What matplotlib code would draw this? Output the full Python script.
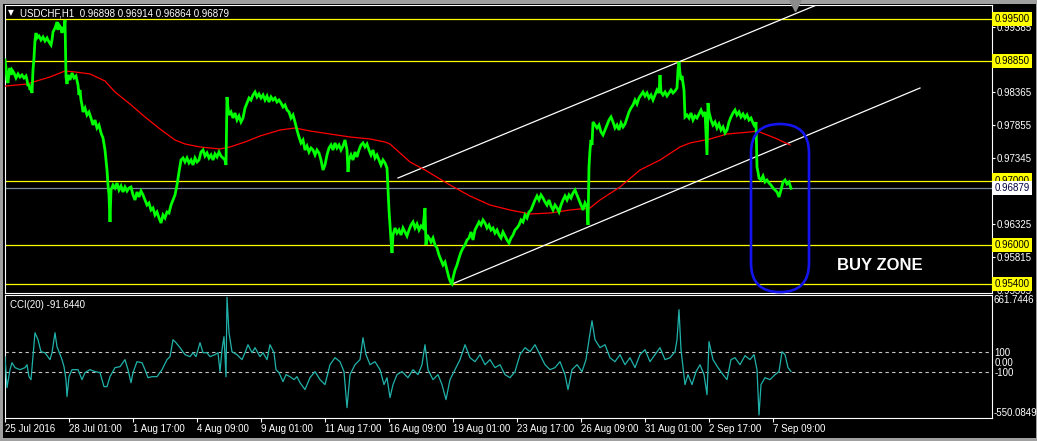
import matplotlib
matplotlib.use('Agg')
import matplotlib.pyplot as plt
from matplotlib.patches import FancyBboxPatch, Rectangle
from matplotlib.transforms import IdentityTransform, blended_transform_factory
import logging
logging.getLogger('matplotlib.font_manager').setLevel(logging.ERROR)

W, H = 1037, 441

title_text = "USDCHF,H1  0.96898 0.96914 0.96864 0.96879"
cci_title = "CCI(20) -91.6440"

# ---------------- price (H1 closes, bar index) ----------------
price_bars = [0, 1, 2, 3, 4, 5, 6, 7, 9, 11, 13, 15, 17, 19, 21, 22, 23, 24, 25, 26, 27, 28, 29, 30, 31, 32, 34, 36, 38, 40,
              42, 44, 46, 47, 48, 50, 52, 53, 54, 56, 57, 58, 59, 60, 61, 62, 63, 65, 67, 69, 71, 73, 74, 75, 76, 77, 78, 80, 82, 84,
              86, 88, 90, 92, 94, 96, 98, 100, 101, 102, 103, 104, 105, 106, 108, 110, 112, 114, 116, 118, 120, 122, 124, 126, 128, 130, 132, 134, 136, 138,
              140, 142, 144, 146, 148, 150, 152, 154, 156, 158, 160, 162, 164, 166, 168, 170, 172, 174, 176, 178, 180, 182, 184, 186, 188, 190, 192, 194, 196, 198,
              200, 202, 204, 206, 208, 210, 212, 214, 216, 218, 220, 221, 222, 223, 224, 226, 228, 230, 232, 234, 236, 238, 240, 242, 244, 246, 248, 250, 252, 254,
              256, 258, 260, 262, 264, 266, 268, 270, 272, 274, 276, 278, 280, 282, 284, 286, 288, 290, 292, 294, 296, 298, 300, 302, 304, 306, 308, 310, 312, 314,
              316, 318, 320, 322, 324, 326, 328, 330, 332, 334, 336, 338, 340, 342, 343, 344, 346, 348, 350, 352, 354, 356, 358, 360, 362, 364, 366, 368, 370, 372,
              374, 376, 378, 380, 382, 383, 384, 385, 386, 387, 388, 390, 392, 394, 396, 398, 400, 402, 404, 406, 408, 410, 412, 414, 416, 418, 420, 421, 422, 424,
              426, 428, 430, 432, 434, 436, 438, 440, 442, 444, 446, 447, 448, 450, 452, 454, 456, 458, 460, 462, 464, 466, 468, 470, 472, 474, 476, 478, 480, 482,
              484, 486, 488, 490, 492, 494, 496, 498, 500, 502, 504, 506, 508, 510, 512, 514, 516, 518, 520, 522, 524, 526, 528, 530, 532, 534, 536, 538, 540, 542,
              544, 546, 548, 550, 552, 554, 556, 558, 560, 562, 564, 566, 568, 570, 572, 574, 576, 578, 580, 582, 583, 584, 585, 586, 587, 588, 590, 592, 594, 596,
              598, 600, 602, 604, 606, 608, 610, 612, 614, 616, 618, 620, 622, 624, 626, 628, 630, 632, 634, 636, 638, 640, 642, 644, 646, 648, 650, 652, 654, 655,
              656, 658, 660, 662, 664, 666, 668, 670, 672, 673, 674, 675, 676, 677, 678, 679, 680, 682, 684, 686, 688, 690, 692, 694, 696, 698, 700, 702, 703, 704,
              706, 708, 710, 712, 714, 716, 718, 720, 722, 724, 726, 728, 730, 732, 734, 736, 738, 740, 742, 744, 746, 748, 750, 751, 752, 753, 754, 756, 758, 760,
              762, 764, 766, 768, 770, 772, 774, 776, 778, 780, 782, 784, 786]
price_close = [0.98869, 0.98745, 0.98559, 0.98512, 0.98683, 0.98745, 0.98636, 0.98714, 0.98667, 0.98590, 0.98652, 0.98605, 0.98636, 0.98590, 0.98621, 0.98559, 0.98464, 0.98496, 0.98403, 0.98434, 0.98357, 0.98714, 0.98900, 0.99179, 0.99287, 0.99210, 0.99241, 0.99179, 0.99225, 0.99163,
               0.99210, 0.99148, 0.99101, 0.99179, 0.99303, 0.99365, 0.99458, 0.99334, 0.99411, 0.99365, 0.99287, 0.99380, 0.99334, 0.99489, 0.98605, 0.98496, 0.98636, 0.98559, 0.98667, 0.98590, 0.98621, 0.98481, 0.98326, 0.98403, 0.98248, 0.98171, 0.98062, 0.98124, 0.98016, 0.98062,
               0.97969, 0.97861, 0.97938, 0.97814, 0.97861, 0.97737, 0.97659, 0.97473, 0.97318, 0.97163, 0.96930, 0.96776, 0.96357, 0.96853, 0.96930, 0.96884, 0.96961, 0.96853, 0.96915, 0.96822, 0.96899, 0.96837, 0.96884, 0.96899, 0.96776, 0.96698, 0.96822, 0.96745, 0.96837, 0.96776,
               0.96698, 0.96620, 0.96651, 0.96543, 0.96574, 0.96465, 0.96512, 0.96419, 0.96341, 0.96465, 0.96419, 0.96512, 0.96496, 0.96620, 0.96698, 0.96776, 0.96930, 0.97132, 0.97318, 0.97349, 0.97287, 0.97349, 0.97272, 0.97318, 0.97241, 0.97349, 0.97287, 0.97318, 0.97442, 0.97473,
               0.97380, 0.97427, 0.97349, 0.97396, 0.97318, 0.97411, 0.97365, 0.97442, 0.97380, 0.97349, 0.97318, 0.97241, 0.98295, 0.98124, 0.98016, 0.98062, 0.97969, 0.98047, 0.97938, 0.98000, 0.97907, 0.97969, 0.98124, 0.98202, 0.98279, 0.98248, 0.98326, 0.98372, 0.98295, 0.98341,
               0.98279, 0.98326, 0.98248, 0.98310, 0.98217, 0.98295, 0.98248, 0.98279, 0.98217, 0.98248, 0.98202, 0.98140, 0.98171, 0.98093, 0.98062, 0.97969, 0.98016, 0.97907, 0.97783, 0.97675, 0.97582, 0.97628, 0.97473, 0.97535, 0.97442, 0.97504, 0.97473, 0.97396, 0.97473, 0.97427,
               0.97318, 0.97163, 0.97241, 0.97396, 0.97504, 0.97551, 0.97473, 0.97582, 0.97504, 0.97551, 0.97473, 0.97535, 0.97628, 0.97473, 0.97132, 0.97318, 0.97396, 0.97318, 0.97442, 0.97365, 0.97473, 0.97551, 0.97582, 0.97520, 0.97566, 0.97473, 0.97396, 0.97473, 0.97349, 0.97396,
               0.97318, 0.97241, 0.97318, 0.97272, 0.97194, 0.96853, 0.96543, 0.96310, 0.96078, 0.95876, 0.96155, 0.96264, 0.96186, 0.96233, 0.96155, 0.96264, 0.96202, 0.96140, 0.96233, 0.96310, 0.96357, 0.96264, 0.96326, 0.96233, 0.96295, 0.96264, 0.96574, 0.96000, 0.96155, 0.96109,
               0.96047, 0.96109, 0.96000, 0.95954, 0.95845, 0.95767, 0.95690, 0.95736, 0.95612, 0.95488, 0.95411, 0.95395, 0.95488, 0.95612, 0.95690, 0.95798, 0.95891, 0.95954, 0.96000, 0.96078, 0.96109, 0.96202, 0.96078, 0.96233, 0.96295, 0.96357, 0.96310, 0.96388, 0.96341, 0.96264,
               0.96310, 0.96233, 0.96264, 0.96186, 0.96233, 0.96155, 0.96109, 0.96202, 0.96140, 0.96078, 0.96031, 0.96109, 0.96155, 0.96233, 0.96264, 0.96310, 0.96388, 0.96357, 0.96465, 0.96419, 0.96512, 0.96543, 0.96620, 0.96698, 0.96760, 0.96698, 0.96776, 0.96729, 0.96667, 0.96620,
               0.96698, 0.96605, 0.96543, 0.96620, 0.96574, 0.96512, 0.96620, 0.96698, 0.96760, 0.96698, 0.96776, 0.96729, 0.96806, 0.96853, 0.96776, 0.96698, 0.96620, 0.96543, 0.96651, 0.96589, 0.96310, 0.97210, 0.97473, 0.97628, 0.97551, 0.97907, 0.97861, 0.97814, 0.97861, 0.97752,
               0.97706, 0.97783, 0.97861, 0.97938, 0.97985, 0.97907, 0.97814, 0.97861, 0.97783, 0.97892, 0.97830, 0.97876, 0.97969, 0.98062, 0.98124, 0.98171, 0.98248, 0.98186, 0.98279, 0.98326, 0.98372, 0.98310, 0.98357, 0.98279, 0.98326, 0.98248, 0.98326, 0.98403, 0.98357, 0.98636,
               0.98372, 0.98326, 0.98372, 0.98310, 0.98357, 0.98403, 0.98357, 0.98388, 0.98434, 0.98714, 0.98838, 0.98667, 0.98559, 0.98621, 0.98512, 0.98403, 0.97985, 0.98016, 0.97969, 0.98047, 0.97938, 0.98000, 0.97969, 0.98031, 0.98093, 0.98016, 0.98062, 0.97396, 0.98202, 0.98062,
               0.97938, 0.97861, 0.97907, 0.97814, 0.97876, 0.97783, 0.97830, 0.97737, 0.97783, 0.97907, 0.97985, 0.98047, 0.98093, 0.98016, 0.98062, 0.97985, 0.98031, 0.97969, 0.98016, 0.97938, 0.97969, 0.97892, 0.97830, 0.97907, 0.97210, 0.97132, 0.97039, 0.97008, 0.97070, 0.96977,
               0.97008, 0.96961, 0.96930, 0.96884, 0.96853, 0.96822, 0.96745, 0.96853, 0.96977, 0.97008, 0.96946, 0.96977, 0.96879]

# ---------------- moving average (red) ----------------
ma_bars = [0, 22, 35, 45, 55, 60, 70, 85, 100, 110, 125, 140, 155, 170, 180, 195, 215, 225, 240, 255, 275, 290, 305, 325, 345, 365, 380, 385, 395, 405,
           420, 435, 445, 465, 485, 505, 525, 545, 565, 585, 595, 615, 635, 655, 675, 685, 705, 722, 745, 752, 770, 785]
ma_vals = [0.98464, 0.98496, 0.98559, 0.98605, 0.98667, 0.98698, 0.98683, 0.98652, 0.98543, 0.98372, 0.98186, 0.97985, 0.97799, 0.97628, 0.97566, 0.97520, 0.97489, 0.97520, 0.97597, 0.97690, 0.97783, 0.97814, 0.97768, 0.97721, 0.97675, 0.97644, 0.97597, 0.97566, 0.97427, 0.97287,
           0.97163, 0.97023, 0.96930, 0.96760, 0.96620, 0.96543, 0.96481, 0.96496, 0.96543, 0.96574, 0.96698, 0.96899, 0.97163, 0.97318, 0.97520, 0.97582, 0.97644, 0.97721, 0.97752, 0.97768, 0.97659, 0.97551]

# ---------------- CCI(20) ----------------
cci_bars = [0, 2, 5, 7, 10, 15, 20, 22, 24, 26, 28, 30, 33, 36, 40, 45, 47, 50, 52, 54, 57, 59, 61, 62, 64, 67, 73, 77, 80, 85,
            90, 95, 99, 102, 105, 110, 115, 120, 123, 126, 128, 132, 137, 140, 143, 147, 152, 157, 162, 165, 168, 171, 175, 180, 185, 188, 191, 195, 198, 202,
            205, 210, 213, 215, 217, 219, 221, 222, 224, 227, 232, 237, 240, 243, 247, 250, 255, 258, 262, 265, 269, 271, 274, 278, 281, 285, 289, 292, 295, 300,
            305, 310, 315, 320, 325, 330, 335, 339, 342, 345, 350, 355, 358, 361, 365, 370, 375, 379, 382, 385, 388, 392, 397, 403, 408, 413, 417, 420, 423, 428,
            433, 437, 441, 445, 450, 455, 460, 465, 470, 475, 480, 485, 490, 495, 500, 505, 510, 515, 520, 525, 530, 535, 540, 545, 550, 555, 560, 563, 567, 572,
            577, 581, 584, 587, 590, 595, 600, 605, 610, 615, 620, 625, 630, 635, 640, 645, 650, 655, 660, 665, 670, 672, 674, 676, 680, 683, 687, 691, 695, 699,
            702, 704, 708, 713, 718, 722, 726, 730, 735, 740, 745, 749, 752, 754, 756, 760, 765, 770, 774, 777, 780, 783, 786]
cci_vals = [54, -251, -74, -5, -54, -74, -54, -25, -143, -172, 54, 290, 221, 103, 93, 25, 93, 290, 152, 103, 25, -44, -172, -339, -143, -74, -74, -172, -103, -74,
            -93, -103, -241, -241, -143, -54, -44, 25, -74, -202, -103, 5, -5, -74, -153, -143, -143, -74, 25, 54, 221, 192, 143, 74, 54, 93, 54, 192, 93, 93,
            54, 74, 93, -93, 123, 251, -143, 640, 290, 103, 74, 25, 93, 172, 93, 143, 54, 93, 25, 172, 93, -74, -103, -192, -123, -143, -172, -143, -202, -270,
            -153, -93, -172, -221, -25, 44, 5, -93, -448, -123, -25, 25, 241, 74, -25, 5, -74, -221, -153, -349, -221, -123, -93, -153, -74, -123, -25, 172, -74, -172,
            -123, -221, -369, -172, -74, 25, 172, 44, 5, 74, -25, 25, -54, -25, -123, -153, -93, 74, 143, 103, 172, 74, -25, -74, -54, 5, -123, -270, -74, -25,
            -93, 25, 221, 408, 221, 143, 172, 44, 5, 74, -25, 44, -54, 74, 123, 5, 74, 143, 25, 44, 103, 221, 517, 123, -221, -123, -221, -93, -25, -123,
            -320, 202, 25, -54, -123, -172, 25, 44, -25, 64, 25, 74, -74, -520, -221, -153, -172, -123, -93, 103, 74, -54, -92]

# ---------------- levels, annotations, axes ----------------
level_prices = [0.99500, 0.98850, 0.97000, 0.96000, 0.95400]
level_labels = ["0.99500", "0.98850", "0.97000", "0.96000", "0.95400"]
bid_price = 0.96879
bid_label = "0.96879"
upper_channel_bars = [393, 830]
upper_channel_prices = [0.97039, 0.99839]
lower_channel_bars = [447, 915]
lower_channel_prices = [0.95395, 0.98434]
zone_bars = [746, 804]
zone_prices = [0.95270, 0.97876]
zone_text = "BUY ZONE"
price_ticks = [0.99385, 0.98365, 0.97855, 0.97345, 0.96325, 0.95815, 0.95305]
price_tick_labels = ["0.99385", "0.98365", "0.97855", "0.97345", "0.96325", "0.95815", "0.95305"]
price_ylim = [0.95256, 0.99721]
cci_ylim = [-550.0849, 661.7446]
cci_levels = [100, -100]
cci_ticks = [100, 0, -100]
cci_tick_labels = ["100", "0.00", "-100"]
x_tick_bars = [0, 64, 128, 192, 256, 320, 384, 448, 512, 576, 640, 704, 768]
x_tick_labels = ["25 Jul 2016", "28 Jul 01:00", "1 Aug 17:00", "4 Aug 09:00", "9 Aug 01:00", "11 Aug 17:00",
                 "16 Aug 09:00", "19 Aug 01:00", "23 Aug 17:00", "26 Aug 09:00", "31 Aug 01:00", "2 Sep 17:00", "7 Sep 09:00"]

FONT = ['Liberation Sans', 'DejaVu Sans']
plt.rcParams['font.family'] = FONT
FS = 7

fig = plt.figure(figsize=(W / 100, H / 100), dpi=100, facecolor='black')

def fx(px):
    return px / W

def fy(py):
    return 1 - py / H

# window border (drawn behind the axes)
g = '#a0a0a0'
for rect in [(0, 0, fx(3), 1), (0, fy(4), 1, 1 - fy(4)), (0, 0, 1, fy(438)), (fx(1036), 0, 1 - fx(1036), 1)]:
    fig.patches.append(Rectangle(rect[:2], rect[2], rect[3], transform=fig.transFigure,
                                 fc=g, ec='none', zorder=-5))

L, R = 4.5, 992
ax = fig.add_axes([fx(L), fy(293), fx(R) - fx(L), fy(5) - fy(293)], facecolor='black')
ax2 = fig.add_axes([fx(L), fy(418), fx(R) - fx(L), fy(295) - fy(418)], facecolor='black')

for a in (ax, ax2):
    a.set_xlim(-0.5, R - L - 0.5)
    for s in a.spines.values():
        s.set_color('white')
        s.set_linewidth(0.8)

# main panel
ax.set_ylim(*price_ylim)
ax.set_xticks([])
ax.yaxis.tick_right()
ax.set_yticks(price_ticks)
ax.set_yticklabels(price_tick_labels)
ax.tick_params(axis='y', colors='white', labelsize=FS, length=2.5, width=0.8, pad=1)

for p in level_prices:
    ax.axhline(p, color='#ffff00', lw=0.9, zorder=2)
ax.axhline(bid_price, color='#778899', lw=0.9, zorder=2)

ax.plot(upper_channel_bars, upper_channel_prices, color='white', lw=0.9, zorder=3)
ax.plot(lower_channel_bars, lower_channel_prices, color='white', lw=0.9, zorder=3)
ax.plot(ma_bars, ma_vals, color='#ff0000', lw=0.9, zorder=4)
ax.plot(price_bars, price_close, color='#00ff00', lw=2.0, zorder=5, solid_joinstyle='miter')

btr = blended_transform_factory(ax.transAxes, ax.transData)
xoff = 1.0 + 2.5 / (R - L)
for p, lab in zip(level_prices, level_labels):
    ax.text(xoff, p, lab, transform=btr, ha='left', va='center', fontsize=FS, color='black',
            clip_on=False, zorder=10,
            bbox=dict(boxstyle='square,pad=0.22', fc='#ffff00', ec='none'))
ax.text(xoff, bid_price, bid_label, transform=btr, ha='left', va='center', fontsize=FS, color='#000040',
        clip_on=False, zorder=10, bbox=dict(boxstyle='square,pad=0.22', fc='white', ec='none'))

# buy zone
fig.canvas.draw()
x0, y0 = ax.transData.transform((zone_bars[0], zone_prices[0]))
x1, y1 = ax.transData.transform((zone_bars[1], zone_prices[1]))
rad = (x1 - x0) / 2
zone = FancyBboxPatch((x0, y0), x1 - x0, y1 - y0, boxstyle=f"round,pad=0,rounding_size={rad}",
                      transform=IdentityTransform(), fc='none', ec='#1414f0', lw=1.9, clip_on=False, zorder=6)
ax.add_artist(zone)
ax.text(zone_bars[1] + 28, 0.95690, zone_text, color='white', fontsize=12, fontweight='bold',
        family=['Liberation Sans Narrow', 'Liberation Sans'], ha='left', va='center', zorder=7)

# chart-shift marker
ax.plot([790], [price_ylim[1]], marker='v', color='#8c8c8c', markersize=8, clip_on=False, zorder=8)

# CCI panel
ax2.set_ylim(*cci_ylim)
ax2.axhline(cci_levels[0], color='#c8c8c8', lw=0.8, dashes=(3, 3))
ax2.axhline(cci_levels[1], color='#c8c8c8', lw=0.8, dashes=(3, 3))
ax2.plot(cci_bars, cci_vals, color='#20b2aa', lw=0.9, zorder=5)
ax2.yaxis.tick_right()
ax2.set_yticks(cci_ticks)
ax2.set_yticklabels(cci_tick_labels)
ax2.tick_params(axis='y', colors='white', labelsize=FS, length=0, pad=2)
btr2 = blended_transform_factory(ax2.transAxes, ax2.transData)
ax2.text(1.0 + 2 / (R - L), cci_ylim[1], "661.7446", transform=btr2, ha='left', va='top',
         fontsize=FS, color='white', clip_on=False)
ax2.text(1.0 + 2 / (R - L), cci_ylim[0], "-550.0849", transform=btr2, ha='left', va='bottom',
         fontsize=FS, color='white', clip_on=False)
ax2.set_xticks(x_tick_bars)
ax2.set_xticklabels(x_tick_labels, ha='left')
ax2.tick_params(axis='x', colors='white', labelsize=FS, length=3, width=0.8, pad=1.5, direction='out')

# titles
fig.text(fx(8), fy(13), "\u25bc", fontsize=5.5, color='white', va='center', ha='left', family='DejaVu Sans')
fig.text(fx(20), fy(13), title_text, fontsize=FS, color='white', va='center', ha='left')
fig.text(fx(10), fy(305), cci_title, fontsize=FS, color='white', va='center', ha='left')

fig.savefig('out.png', dpi=100, facecolor='black')
